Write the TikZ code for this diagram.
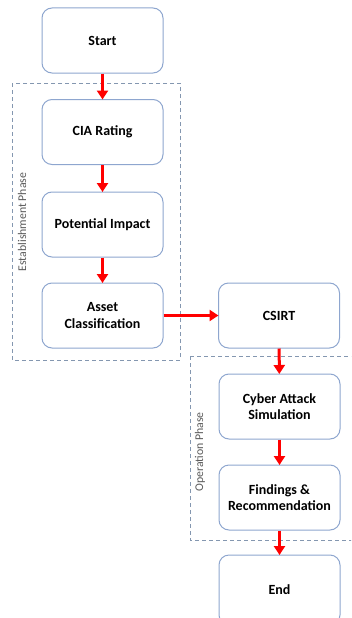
\documentclass[tikz,border=0pt]{standalone}
\usepackage{fontspec}
\setmainfont{Carlito}
\usetikzlibrary{arrows.meta}
\definecolor{boxline}{HTML}{8EA6CF}
\definecolor{dashline}{HTML}{8497B0}
\definecolor{lbl}{HTML}{595959}
\tikzset{
  stepbox/.style={draw=boxline, line width=1pt, rounded corners=10pt, fill=white,
    minimum width=121pt, minimum height=65pt, align=center, font=\fontsize{14}{16.5}\selectfont\bfseries, inner sep=0pt},
  phase/.style={draw=dashline, dashed, line width=0.9pt, dash pattern=on 4pt off 3pt},
  flow/.style={draw=red, line width=3pt, -{Triangle[length=9pt,width=11pt]}, shorten >=-0.5pt},
  phaselbl/.style={font=\fontsize{11.8}{14}\selectfont, text=lbl, rotate=90}
}
\begin{document}
\begin{tikzpicture}[x=1pt,y=-1pt]
\useasboundingbox (0,0) rectangle (351,618);
\begin{scope}
\clip (0,0) rectangle (351,618);
% phase frames
\draw[phase] (12,83) rectangle (180,360);
\draw[phase] (190,356) -- (360,356) (190,356) -- (190,540) -- (360,540);
\node[phaselbl] (estlbl) at (22,222) {Establishment Phase};
\node[phaselbl] (oplbl) at (200,452) {Operation Phase};
% nodes
\node[stepbox] (start) at (102.5,40.5) {Start};
\node[stepbox] (cia) at (102.5,132) {CIA Rating};
\node[stepbox] (pot) at (102.5,224.5) {Potential Impact};
\node[stepbox] (asset) at (102.5,315.5) {Asset\\Classification};
\node[stepbox] (csirt) at (279,315.5) {CSIRT};
\node[stepbox] (cyber) at (279.5,406.5) {Cyber Attack\\Simulation};
\node[stepbox] (find) at (279.5,497.5) {Findings \&\\Recommendation};
\node[stepbox, minimum height=70pt] (end) at (279.5,590) {End};
% connectors
\draw[flow] (start) -- (cia);
\draw[flow] (cia) -- (pot);
\draw[flow] (pot) -- (asset);
\draw[flow] (asset) -- (csirt);
\draw[flow] (csirt) -- (cyber);
\draw[flow] (cyber) -- (find);
\draw[flow] (find) -- (end);
\end{scope}
\end{tikzpicture}
\end{document}
